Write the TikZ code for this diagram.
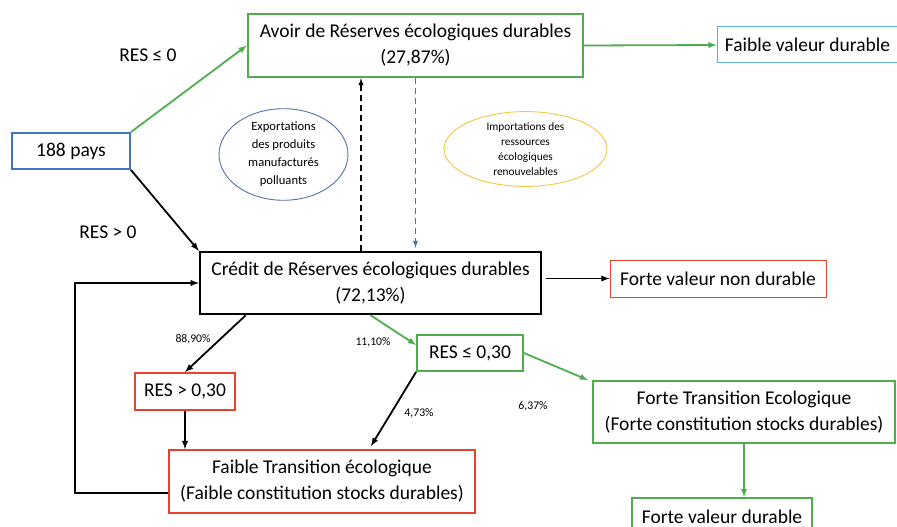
\documentclass[tikz,border=0pt]{standalone}
\usepackage{fontspec}
\setmainfont{Carlito}
\usetikzlibrary{shapes.geometric}

\definecolor{vert}{HTML}{4EAE4F}
\definecolor{rouge}{HTML}{E8412C}
\definecolor{bleu}{HTML}{4472C4}
\definecolor{ciel}{HTML}{5DADE2}
\definecolor{jaune}{HTML}{F4C542}
\definecolor{bleuell}{HTML}{5470A8}

\tikzset{
  boite/.style={draw, align=center, inner sep=0pt, font=\fontsize{19.5}{26}\selectfont},
  bulle/.style={draw, ellipse, align=center, inner sep=0pt, line width=0.9pt},
  pct/.style={font=\fontsize{11.7}{14}\selectfont},
  cond/.style={font=\fontsize{19.5}{24}\selectfont},
  tirets/.style={dash pattern=on 6pt off 4pt, line width=1.4pt},
}

\begin{document}
\begin{tikzpicture}[x=1pt, y=-1pt, >=latex, line width=1.8pt]
		\useasboundingbox (0,0) rectangle (897,527);

		\node[boite, vert, text=black, line width=2.4pt, minimum width=335pt, minimum height=63pt] (avoir) at (415.5,45.5) {Avoir de Réserves écologiques durables\\(27,87\%)};
		\node[boite, ciel, text=black, line width=1pt, minimum width=181pt, minimum height=36pt] (faibleval) at (807.5,45) {Faible valeur durable};
		\node[boite, bleu, text=black, minimum width=118pt, minimum height=36pt] (pays) at (71,151) {188 pays};
		\node[boite, black, line width=2.4pt, minimum width=341pt, minimum height=62pt] (credit) at (370.5,283) {Crédit de Réserves écologiques durables\\(72,13\%)};
		\node[boite, rouge, text=black, line width=1pt, minimum width=216pt, minimum height=37pt] (fortenon) at (718,278.5) {Forte valeur non durable};
		\node[boite, vert, text=black, minimum width=106pt, minimum height=36pt] (resle) at (470,353) {RES ≤ 0,30};
		\node[boite, rouge, text=black, minimum width=100pt, minimum height=37pt] (resgt) at (185,391.5) {RES > 0,30};
		\node[boite, vert, text=black, minimum width=302pt, minimum height=62pt] (fortetr) at (744,412) {Forte Transition Ecologique\\(Forte constitution stocks durables)};
		\node[boite, rouge, text=black, minimum width=306pt, minimum height=63pt] (faibletr) at (322,481.5) {Faible Transition écologique\\(Faible constitution stocks durables)};
		\node[boite, vert, text=black, minimum width=180pt, minimum height=38pt] (fortedur) at (722,517) {Forte valeur durable};

		\node[bulle, bleuell, text=black, minimum width=129pt, minimum height=81pt, font=\fontsize{12.6}{18}\selectfont] (export) at (283.5,154.5) {Exportations\\des produits\\manufacturés\\polluants};
		\node[bulle, jaune, text=black, minimum width=163pt, minimum height=70pt, font=\fontsize{11.3}{15}\selectfont] (import) at (525.5,149) {Importations des\\ressources\\écologiques\\renouvelables};

		\node[cond] (lble) at (148,55) {RES ≤ 0};
		\node[cond] (lbgt) at (108,232) {RES > 0};
		\node[pct] (p8890) at (193,339) {88,90\%};
		\node[pct] (p1110) at (373,342) {11,10\%};
		\node[pct] (p473) at (419,413) {4,73\%};
		\node[pct] (p637) at (533,406) {6,37\%};

		\draw[->, vert] (pays.north east) -- (avoir.west);
		\draw[->] (pays.south east) -- (credit.north west);
		\draw[->, vert] (avoir.east) -- (faibleval.west);
		\draw[->, tirets] ([xshift=-54.5pt]avoir.south |- credit.north) -- ([xshift=-54.5pt]avoir.south);
		\draw[->, tirets, bleu] (avoir.south) -- ([yshift=3pt]avoir.south |- credit.north);
		\draw[->] ([xshift=4pt]credit.east |- fortenon.west) -- (fortenon.west);
		\draw[->] ([xshift=47pt]credit.south west) -- (resgt.north);
		\draw[->, vert] (credit.south) -- ([yshift=8pt]resle.west);
		\draw[->] (resgt.south) -- (resgt.south |- faibletr.north);
		\draw[->] (resle.south west) -- ([xshift=49pt, yshift=3pt]faibletr.north);
		\draw[->, vert] (resle.east) -- ([xshift=-4pt]fortetr.north west);
		\draw[->, vert] (fortetr.south) -- (fortetr.south |- fortedur.north);
		\draw[->] ([yshift=-11.5pt]faibletr.west) -- ++(-93,0) |- (credit.west);
	\end{tikzpicture}
\end{document}
